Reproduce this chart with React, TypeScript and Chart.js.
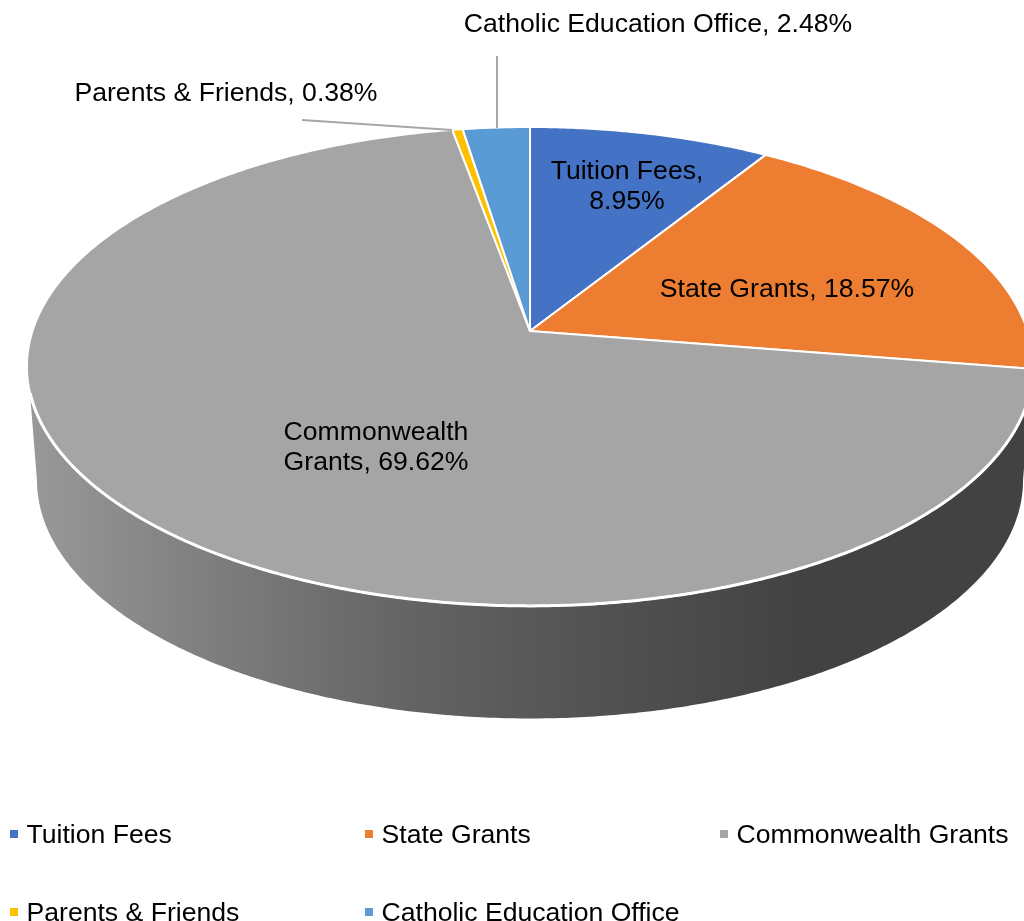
import React, { useEffect, useRef } from "react";
import { Chart, registerables } from "chart.js";

Chart.register(...registerables);

const categories = ["Tuition Fees", "State Grants", "Commonwealth Grants", "Parents & Friends", "Catholic Education Office"];
const shares = [8.95, 18.57, 69.62, 0.38, 2.48];
const sliceColors = ["#4472C4", "#ED7D31", "#A5A5A5", "#FFC000", "#5B9BD5"];

const FONT = '26.6px "Liberation Sans", Arial, sans-serif';
const TEXT_COLOR = "#000000";

// Perspective model of the tilted disc: a unit circle projected on to the canvas.
const TILT = 0.148;
const TOP_FACE = { cx: 530, cy: 331, a: 497.5, b: 234.2 };
const BOTTOM_FACE = { cx: 530, cy: 445, a: 487.6, b: 233 };

type Face = typeof TOP_FACE;

function project(face: Face, angle: number): [number, number] {
  const u = Math.cos(angle);
  const v = Math.sin(angle);
  const w = 1 - TILT * v;
  return [face.cx + (face.a * u) / w, face.cy + (face.b * v) / w];
}

// Per-slice label lines and where their centres sit on the canvas.
const labelLines = (i: number): string[] => {
  const pct = `${shares[i].toFixed(2)}%`;
  if (i === 0) return [`${categories[0]},`, pct];
  if (i === 2) return ["Commonwealth", `Grants, ${pct}`];
  return [`${categories[i]}, ${pct}`];
};
const labelCentres: [number, number][] = [
  [627, 172],
  [787, 290],
  [376, 433],
  [226, 94],
  [658, 25],
];
const leaderLines: [number, number, number, number][] = [
  [302, 120, 452, 130],
  [497, 56, 497, 128],
];
const legendSpots: [number, number][] = [
  [10, 834],
  [365, 834],
  [720, 834],
  [10, 912],
  [365, 912],
];

const disc3d = {
  id: "disc3d",
  beforeDatasetsDraw(chart: any) {
    const { ctx } = chart;
    const arcs = chart.getDatasetMeta(0).data;
    const STEP = Math.PI / 360;

    // Side wall between the two faces, shaded from left to right.
    const topFrom = Math.asin(0.253);
    const topTo = Math.PI - topFrom;
    const bottomFrom = Math.asin(TILT);
    const bottomTo = Math.PI - bottomFrom;
    const shade = ctx.createLinearGradient(27, 0, 1033, 0);
    shade.addColorStop(0, "#999999");
    shade.addColorStop(0.17, "#808080");
    shade.addColorStop(0.37, "#656565");
    shade.addColorStop(0.49, "#595959");
    shade.addColorStop(0.62, "#4e4e4e");
    shade.addColorStop(0.77, "#424242");
    shade.addColorStop(1, "#424242");
    ctx.save();
    ctx.beginPath();
    ctx.moveTo(...project(TOP_FACE, topFrom));
    for (let t = bottomFrom; t <= bottomTo; t += STEP) ctx.lineTo(...project(BOTTOM_FACE, t));
    ctx.lineTo(...project(BOTTOM_FACE, bottomTo));
    ctx.lineTo(...project(TOP_FACE, topTo));
    for (let t = topTo; t >= topFrom; t -= STEP) ctx.lineTo(...project(TOP_FACE, t));
    ctx.closePath();
    ctx.fillStyle = shade;
    ctx.fill();

    // Top face: each slice uses the angles the library worked out for its arc.
    arcs.forEach((arc: any, i: number) => {
      const { startAngle, endAngle } = arc.getProps(["startAngle", "endAngle"], true);
      ctx.beginPath();
      ctx.moveTo(TOP_FACE.cx, TOP_FACE.cy);
      for (let t = startAngle; t < endAngle; t += STEP) ctx.lineTo(...project(TOP_FACE, t));
      ctx.lineTo(...project(TOP_FACE, endAngle));
      ctx.closePath();
      ctx.fillStyle = sliceColors[i];
      ctx.fill();
      ctx.strokeStyle = "#ffffff";
      ctx.lineWidth = 2;
      ctx.lineJoin = "round";
      ctx.stroke();
    });

    // Slightly heavier white rim where the top face meets the wall.
    ctx.beginPath();
    ctx.moveTo(...project(TOP_FACE, topFrom));
    for (let t = topFrom; t <= topTo; t += STEP) ctx.lineTo(...project(TOP_FACE, t));
    ctx.strokeStyle = "#ffffff";
    ctx.lineWidth = 3;
    ctx.stroke();

    // Leader lines for the two small slices.
    ctx.strokeStyle = "#a6a6a6";
    ctx.lineWidth = 2;
    leaderLines.forEach(([x1, y1, x2, y2]) => {
      ctx.beginPath();
      ctx.moveTo(x1, y1);
      ctx.lineTo(x2, y2);
      ctx.stroke();
    });
    ctx.restore();
    return false;
  },
  afterDraw(chart: any) {
    const { ctx } = chart;
    ctx.save();
    ctx.font = FONT;
    ctx.fillStyle = TEXT_COLOR;
    ctx.textBaseline = "middle";

    // Slice labels.
    ctx.textAlign = "center";
    categories.forEach((_, i) => {
      const [x, y] = labelCentres[i];
      labelLines(i).forEach((line, n) => ctx.fillText(line, x, y + n * 30));
    });

    // Legend in three fixed columns.
    ctx.textAlign = "left";
    categories.forEach((name, i) => {
      const [x, y] = legendSpots[i];
      ctx.fillStyle = sliceColors[i];
      ctx.fillRect(x, y - 4, 8, 8);
      ctx.fillStyle = TEXT_COLOR;
      ctx.fillText(name, x + 16.5, y + 2);
    });
    ctx.restore();
  },
};

export default function App() {
  const canvasRef = useRef<HTMLCanvasElement>(null);

  useEffect(() => {
    const chart = new Chart(canvasRef.current!, {
      type: "pie",
      data: {
        labels: categories,
        datasets: [{ data: shares, backgroundColor: sliceColors }],
      },
      options: {
        animation: false,
        responsive: false,
        plugins: { legend: { display: false }, tooltip: { enabled: false } },
      },
      plugins: [disc3d],
    } as any);
    return () => chart.destroy();
  }, []);

  return (
    <canvas
      ref={canvasRef}
      width={1024}
      height={921}
      style={{ position: "absolute", left: 0, top: 0, display: "block", background: "#fff" }}
    />
  );
}
